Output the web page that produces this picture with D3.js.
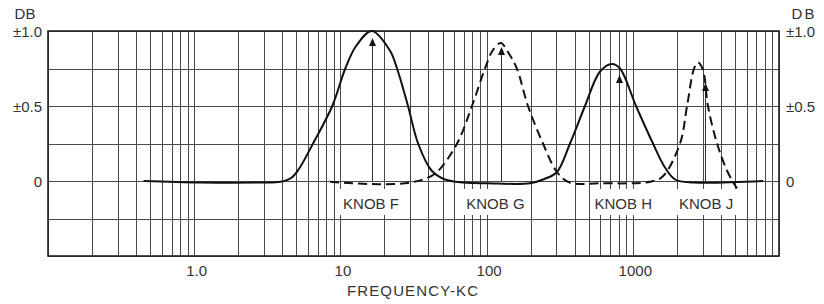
<!DOCTYPE html>
<meta charset="utf-8">
<style>
body { margin: 0; background: #fff; }
svg { font-family: "Liberation Sans", Arial, sans-serif; }
.grid line { stroke: #4a4a4a; stroke-width: 1; shape-rendering: crispEdges; }
.lbl { font-size: 15px; fill: #333; }
.axis text { font-size: 15px; fill: #333; font-family: "Liberation Sans", Arial, sans-serif; }
.curve { fill: none; stroke: #111; stroke-width: 2; }
</style>
<body>
<script src="https://d3js.org/d3.v7.min.js"></script>
<script>
// frequency (kc) / response (db)
const solidFreq = [0.45, 1.1, 2.8, 3.9, 4.6, 5.2, 6.5, 8.8, 10.8, 12.8, 16.4, 21.8, 24.4, 29, 34, 42, 52, 70, 100, 198, 251, 303, 372, 471, 597, 721, 817, 1052, 1374, 1660, 1950, 2600, 7800];
const solidDb   = [0, -0.01, -0.01, -0.005, 0.02, 0.08, 0.25, 0.5, 0.75, 0.9, 1.0, 0.87, 0.75, 0.5, 0.25, 0.07, 0.01, -0.01, -0.015, -0.015, 0.015, 0.06, 0.25, 0.5, 0.73, 0.78, 0.75, 0.5, 0.25, 0.09, 0.01, -0.01, 0];
const dashFreq  = [8.5, 15.9, 27.7, 37.9, 45.8, 62.8, 79.4, 97.5, 110, 125, 142, 161, 192, 243, 303, 370, 597, 1312, 1600, 2104, 2350, 2625, 2793, 3020, 3266, 3770, 4405, 4843, 5160];
const dashDb    = [-0.005, -0.02, -0.015, 0.015, 0.06, 0.25, 0.5, 0.75, 0.87, 0.92, 0.85, 0.75, 0.5, 0.25, 0.06, -0.01, -0.015, -0.005, 0.03, 0.25, 0.5, 0.75, 0.79, 0.74, 0.5, 0.25, 0.07, -0.005, -0.05];

const knobNames = ["KNOB F", "KNOB G", "KNOB H", "KNOB J"];
const knobFreq  = [16.4, 125, 800, 3120];   // arrow positions
const knobTipDb = [0.953, 0.893, 0.707, 0.653];
const knobLabelFreq = [16.2, 115, 860, 3170];

const xTickVals = [1, 10, 100, 1000];
const xTickLabels = ["1.0", "10", "100", "1000"];
const yTickVals = [1.0, 0.5, 0];
const yTickLabels = ["±1.0", "±0.5", "0"];
const yGrid = [-0.5, -0.25, 0, 0.25, 0.5, 0.75, 1.0];

const W = 824, H = 304;
const svg = d3.select("body").append("svg").attr("width", W).attr("height", H);

const x = d3.scaleLog().domain([0.1, 10000]).range([48, 779]);
const y = d3.scaleLinear().domain([-0.5, 1.0]).range([256, 31]);

// graph paper
const grid = svg.append("g").attr("class", "grid");
grid.selectAll(".v").data(x.ticks()).enter().append("line")
  .attr("x1", d => Math.round(x(d)) + 0.5).attr("x2", d => Math.round(x(d)) + 0.5)
  .attr("y1", y(1.0)).attr("y2", y(-0.5));
grid.selectAll(".h").data(yGrid).enter().append("line")
  .attr("x1", x(0.1)).attr("x2", x(10000))
  .attr("y1", d => Math.round(y(d)) + 0.5).attr("y2", d => Math.round(y(d)) + 0.5);

svg.append("rect")
  .attr("x", x(0.1)).attr("y", y(1.0))
  .attr("width", x(10000) - x(0.1)).attr("height", y(-0.5) - y(1.0))
  .attr("fill", "none").attr("stroke", "#222").attr("stroke-width", 1.6);

// knob labels on white patches
const lab = svg.append("g");
knobNames.forEach(function (k, i) {
  const cx = x(knobLabelFreq[i]);
  lab.append("rect").attr("x", cx - 33).attr("y", 189).attr("width", 66).attr("height", 26).attr("fill", "#fff");
  lab.append("text").attr("class", "lbl").attr("x", cx).attr("y", 209)
    .attr("text-anchor", "middle").text(k);
});

// marker lines from the arrows down to zero
svg.selectAll(".mk").data(knobFreq).enter().append("line")
  .attr("x1", d => Math.round(x(d)) + 0.5).attr("x2", d => Math.round(x(d)) + 0.5)
  .attr("y1", (d, i) => y(knobTipDb[i]) + 7).attr("y2", y(0))
  .attr("stroke", "#333").attr("stroke-width", 1);

const line = d3.line().x(d => x(d[0])).y(d => y(d[1])).curve(d3.curveCatmullRom.alpha(0.5));

svg.append("path").attr("class", "curve")
  .attr("d", line(d3.zip(solidFreq, solidDb)));
svg.append("path").attr("class", "curve")
  .attr("stroke-dasharray", "9,5")
  .attr("d", line(d3.zip(dashFreq, dashDb)));

// arrow heads
svg.selectAll(".arr").data(knobFreq).enter().append("path")
  .attr("d", function (d, i) {
    const cx = Math.round(x(d)) + 0.5, ty = y(knobTipDb[i]);
    return "M" + cx + "," + ty + "L" + (cx + 3.5) + "," + (ty + 8) + "L" + (cx - 3.5) + "," + (ty + 8) + "Z";
  })
  .attr("fill", "#111");

// axes
const xa = svg.append("g").attr("class", "axis")
  .attr("transform", "translate(2," + y(-0.5) + ")")
  .call(d3.axisBottom(x).tickValues(xTickVals).tickFormat((d, i) => xTickLabels[i]).tickSize(0).tickPadding(9));
xa.select(".domain").remove();

const ya = svg.append("g").attr("class", "axis")
  .attr("transform", "translate(48,1)")
  .call(d3.axisLeft(y).tickValues(yTickVals).tickFormat((d, i) => yTickLabels[i]).tickSize(0).tickPadding(6));
ya.select(".domain").remove();

const yb = svg.append("g").attr("class", "axis")
  .attr("transform", "translate(779,1)")
  .call(d3.axisRight(y).tickValues(yTickVals).tickFormat((d, i) => yTickLabels[i]).tickSize(0).tickPadding(7));
yb.select(".domain").remove();

svg.append("text").attr("class", "lbl").attr("x", 25).attr("y", 19).attr("text-anchor", "middle").text("DB");
svg.append("text").attr("class", "lbl").attr("x", 804).attr("y", 19).attr("text-anchor", "middle")
  .attr("letter-spacing", 2).text("DB");

svg.append("text").attr("class", "lbl").attr("x", 347).attr("y", 296)
  .attr("textLength", 131).attr("lengthAdjust", "spacing").text("FREQUENCY-KC");
</script>
</body>
